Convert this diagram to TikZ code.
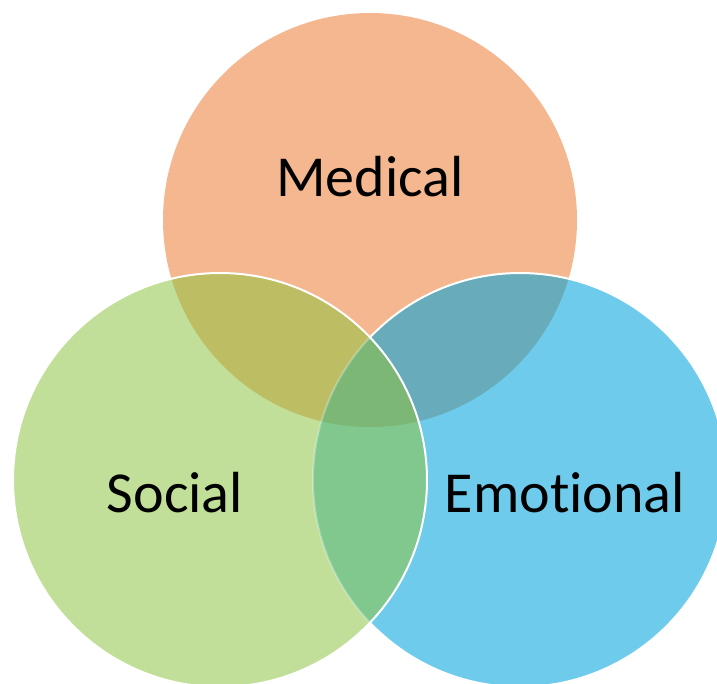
\documentclass[tikz,border=0pt]{standalone}
\usepackage{fontspec}
\setmainfont{Carlito}[Ligatures={NoCommon}]
\definecolor{medOrange}{RGB}{244,183,143}
\definecolor{socGreen}{RGB}{193,223,152}
\definecolor{emoBlue}{RGB}{110,203,236}
\definecolor{medSoc}{RGB}{189,189,99}
\definecolor{medEmo}{RGB}{104,172,187}
\definecolor{socEmo}{RGB}{128,200,141}
\definecolor{allThree}{RGB}{124,183,117}

\begin{document}
\begin{tikzpicture}[x=1pt,y=-1pt, every node/.style={font=\fontsize{58}{60}\selectfont, anchor=base}, vennline/.style={white,line width=2pt}]
			\def\r{207pt}
			\useasboundingbox (0,0) rectangle (717,683);
			
			\coordinate (med) at (370,220);
			\coordinate (soc) at (220,480);
			\coordinate (emo) at (520,480);
			
			% Plain discs
			\fill[medOrange] (med) circle (\r);
			\fill[socGreen] (soc) circle (\r);
			\fill[emoBlue] (emo) circle (\r);
			
			% Pairwise overlaps
			\begin{scope}
				\clip (med) circle (\r);
				\fill[medSoc] (soc) circle (\r);
				\fill[medEmo] (emo) circle (\r);
			\end{scope}
			\begin{scope}
				\clip (soc) circle (\r);
				\fill[socEmo] (emo) circle (\r);
				\clip (med) circle (\r);
				\fill[allThree] (emo) circle (\r);
			\end{scope}
			
			% White rims, the blue one shows only faintly under the green
			\begin{scope}
				\clip (soc) circle (\r);
				\draw[vennline, opacity=0.3] (emo) circle (\r);
			\end{scope}
			\begin{scope}[even odd rule]
				\clip (-20,-20) rectangle (760,720) (soc) circle (\r);
				\draw[vennline] (emo) circle (\r);
			\end{scope}
			\draw[vennline] (soc) circle (\r);
			
			% Labels
			\node (medlabel) at (370,196) {Medical};
			\node (soclabel) at (175,512) {Social};
			\node (emolabel) at (565,512) {Emotional};
\end{tikzpicture}
\end{document}
